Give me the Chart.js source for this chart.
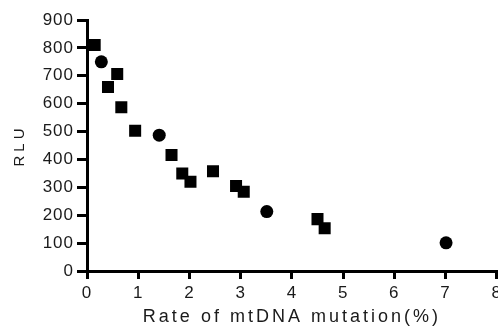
<!DOCTYPE html>
<html>
<head>
<meta charset="utf-8">
<script src="https://cdn.jsdelivr.net/npm/chart.js@4/dist/chart.umd.min.js"></script>
<style>
  html, body { margin: 0; padding: 0; background: #fff; overflow: hidden; }
  #wrap { position: absolute; left: 0; top: 0; width: 506px; height: 330px; }
</style>
</head>
<body>
<div id="wrap"><canvas id="chart" width="506" height="330"></canvas></div>
<script>
// measured points, square markers
const squareX = [0.15, 0.41, 0.59, 0.67, 0.94, 1.65, 1.86, 2.02, 2.46, 2.91, 3.06, 4.50, 4.64];
const squareY = [810, 660, 706, 587, 503, 416, 350, 320, 358, 305, 284, 186, 153];
// round markers
const circleX = [0.28, 1.41, 3.51, 7.01];
const circleY = [750, 487, 213, 101];

const xTicks = [0, 1, 2, 3, 4, 5, 6, 7, 8];
const yTicks = [0, 100, 200, 300, 400, 500, 600, 700, 800, 900];

const fam = '"Liberation Sans", Arial, sans-serif';
const tickFont = { family: fam, size: 17 };

function pts(xs, ys) {
  return xs.map((x, i) => ({ x, y: ys[i] }));
}

// the original text is drawn wide; stretch it with letter spacing
const titleSpacing = { x: '3px', y: '4px' };
const spacing = {
  id: 'spacing',
  beforeUpdate(chart) { chart.ctx.letterSpacing = '1px'; },
  afterUpdate(chart) {
    Object.keys(titleSpacing).forEach(id => {
      const s = chart.scales[id];
      if (!s || s._wrapped) return;
      const orig = s.drawTitle;
      s.drawTitle = function(area) {
        const c = this.ctx;
        c.letterSpacing = titleSpacing[id];
        orig.call(this, area);
        c.letterSpacing = '1px';
      };
      s._wrapped = true;
    });
  },
  beforeDraw(chart) { chart.ctx.letterSpacing = '1px'; }
};

new Chart(document.getElementById('chart'), {
  type: 'scatter',
  data: {
    datasets: [{
      label: 'squares',
      data: pts(squareX, squareY),
      pointStyle: 'rect',
      pointRadius: 8.5,
      backgroundColor: '#000',
      borderColor: '#000',
      borderWidth: 0,
    }, {
      label: 'circles',
      data: pts(circleX, circleY),
      pointStyle: 'circle',
      pointRadius: 6.5,
      backgroundColor: '#000',
      borderColor: '#000',
      borderWidth: 0,
    }]
  },
  options: {
    responsive: false, animation: false,
    layout: { padding: { top: 20, right: 0, left: 0, bottom: 0 } },
    scales: {
      x: {
        type: 'linear', min: 0, max: 8,
        afterBuildTicks(s) { s.ticks = xTicks.map(v => ({ value: v })); },
        afterFit(s) { s.height = 59; },
        grid: { drawOnChartArea: false, drawTicks: true, tickLength: 8, color: '#000', lineWidth: 3 },
        border: { display: true, color: '#000', width: 3 },
        ticks: { color: '#1a1a1a', font: tickFont, padding: 4, maxRotation: 0 },
        title: { display: true, text: 'Rate of mtDNA mutation(%)', color: '#1a1a1a', font: { family: fam, size: 18 }, padding: { top: 0, bottom: 2 } }
      },
      y: {
        type: 'linear', min: 0, max: 900,
        afterBuildTicks(s) { s.ticks = yTicks.map(v => ({ value: v })); },
        afterFit(s) { s.width = 87; },
        grid: { drawOnChartArea: false, drawTicks: true, tickLength: 10, color: '#000', lineWidth: 3 },
        border: { display: true, color: '#000', width: 3 },
        ticks: { color: '#1a1a1a', font: tickFont, padding: 3 },
        title: { display: true, text: 'RLU', color: '#1a1a1a', font: { family: fam, size: 15 }, padding: { top: 11, bottom: 0 } }
      }
    },
    plugins: { legend: { display: false }, tooltip: { enabled: false } }
  },
  plugins: [spacing]
});
</script>
</body>
</html>
